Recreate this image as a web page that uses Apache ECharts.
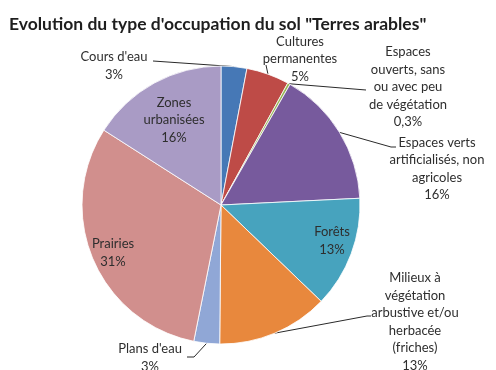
<!DOCTYPE html>
<html>
<head>
<meta charset="utf-8">
<script src="https://cdn.jsdelivr.net/npm/echarts@6/dist/echarts.min.js"></script>
<style>
  html, body { margin: 0; padding: 0; background: #fff; }
  #chart { width: 496px; height: 370px; }
</style>
</head>
<body>
<div id="chart"></div>
<script>
// Land-use categories (line breaks as they appear in the labels)
const categories = [
  "Cours d'eau",
  "Cultures\npermanentes",
  "Espaces\nouverts, sans\nou avec peu\nde végétation",
  "Espaces verts\nartificialisés, non\nagricoles",
  "Forêts",
  "Milieux à\nvégétation\narbustive et/ou\nherbacée\n(friches)",
  "Plans d'eau",
  "Prairies",
  "Zones\nurbanisées"
];

// Share of each land-use type, in percent
const shares = [3, 5, 0.3, 16, 13, 13, 3, 31, 16];

const sliceColors = [
  '#4678b6', '#be4b47', '#98b655', '#775a9d', '#47a3be',
  '#e8883d', '#90a7d6', '#d18f8d', '#a99bc5'
];

// Where each label sits, and the bend/end of its leader line (null = inside label)
const labelPlacement = [
  { at: [114, 66], line: [[153, 61]] },
  { at: [300, 59], line: [[266, 65]] },
  { at: [408, 87], line: [[366, 90]] },
  { at: [437, 169], line: [[391, 147], [396, 147]] },
  { at: [332, 241], line: null },
  { at: [415, 322], line: [[367, 316], [371, 316]] },
  { at: [150, 358], line: [[194, 357], [187, 357]] },
  { at: [113, 253], line: null },
  { at: [174, 120], line: null }
];

const chart = echarts.init(document.getElementById('chart'), null, { renderer: 'canvas' });

const data = categories.map((name, i) => ({
  name: name,
  value: shares[i],
  itemStyle: { color: sliceColors[i] },
  label: labelPlacement[i].line ? {} : { position: 'inside' },
  labelLine: { show: !!labelPlacement[i].line }
}));

chart.setOption({
  animation: false,
  title: {
    text: 'Evolution du type d\'occupation du sol "Terres arables"',
    left: 4,
    top: 10,
    textStyle: {
      fontFamily: 'Lato',
      fontSize: 17.5,
      fontWeight: 'bold',
      color: '#1e1e1e'
    }
  },
  series: [{
    type: 'pie',
    center: [221, 205],
    radius: 139,
    startAngle: 90,
    clockwise: true,
    avoidLabelOverlap: false,
    itemStyle: { borderColor: '#ffffff', borderWidth: 0.8 },
    label: {
      show: true,
      position: 'outside',
      fontFamily: 'Lato',
      fontSize: 13,
      lineHeight: 17.5,
      color: '#2e2e2e',
      align: 'center',
      formatter: p => p.name + '\n' + String(p.value).replace('.', ',') + '%'
    },
    labelLine: {
      show: true,
      lineStyle: { color: '#2a2a2a', width: 1 }
    },
    labelLayout: function (params) {
      const place = labelPlacement[params.dataIndex];
      const out = {
        x: place.at[0],
        y: place.at[1],
        align: 'center',
        verticalAlign: 'middle'
      };
      if (place.line && params.labelLinePoints) {
        out.labelLinePoints = [params.labelLinePoints[0]].concat(place.line);
      }
      return out;
    },
    data: data
  }]
});
</script>
</body>
</html>
